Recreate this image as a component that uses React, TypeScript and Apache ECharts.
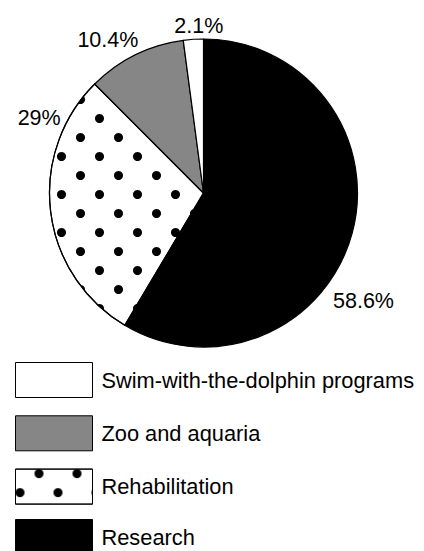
import React, { useEffect, useRef } from "react";
import * as echarts from "echarts";

const categories = ["Research", "Rehabilitation", "Zoo and aquaria", "Swim-with-the-dolphin programs"];
const values = [58.6, 29, 10.4, 2.1];
const valueLabels = ["58.6%", "29%", "10.4%", "2.1%"];
const legendOrderTop = ["Swim-with-the-dolphin programs", "Zoo and aquaria", "Rehabilitation"];
const legendOrderBottom = ["Research"];

const LABEL_NUDGE: [number, number][] = [
  [-24, 67],
  [15, -94],
  [8, -15],
  [35, -13],
];

const FONT = "'Liberation Sans', Arial, Helvetica, sans-serif";

export default function App() {
  const ref = useRef<HTMLDivElement>(null);
  useEffect(() => {
    if (!ref.current) return;
    const chart = echarts.init(ref.current, undefined, { renderer: "svg" });
    const dotDecal = {
      symbol: "circle",
      symbolSize: 1,
      color: "#000",
      dashArrayX: [[9, 29], [0, 19, 9, 10]],
      dashArrayY: [9, 10],
      rotation: 0,
    };
    const styles = [
      { color: "#000" },
      { color: "#fff", decal: dotDecal },
      { color: "#868686" },
      { color: "#fff" },
    ];
    const legendBase = {
      orient: "vertical",
      left: 10,
      itemWidth: 77,
      itemHeight: 35,
      itemGap: 17.3,
      icon: "rect",
      selectedMode: false,
      textStyle: { fontFamily: FONT, fontSize: 21.8, color: "#000", padding: [0, 0, 0, 4] },
      itemStyle: { borderColor: "#000", borderWidth: 1 },
    };
    chart.setOption({
      animation: false,
      backgroundColor: "#fff",
      legend: [
        { ...legendBase, top: 357, data: legendOrderTop },
        { ...legendBase, top: 514, data: legendOrderBottom },
      ],
      series: [
        {
          type: "pie",
          center: [203.5, 193],
          radius: 154,
          startAngle: 90,
          clockwise: true,
          avoidLabelOverlap: false,
          itemStyle: { borderColor: "#000", borderWidth: 1.2 },
          label: {
            show: true,
            position: "outside",
            fontFamily: FONT,
            fontSize: 21.5,
            color: "#000",
            formatter: (p: any) => valueLabels[p.dataIndex],
          },
          labelLine: { show: false, length: 0, length2: 0 },
          labelLayout: (p: any) => ({ dx: LABEL_NUDGE[p.dataIndex][0], dy: LABEL_NUDGE[p.dataIndex][1] }),
          emphasis: { disabled: true },
          data: categories.map((name, i) => ({ name, value: values[i], itemStyle: styles[i] })),
        },
      ],
    });
    return () => chart.dispose();
  }, []);
  return <div ref={ref} style={{ position: "fixed", left: 0, top: 0, width: 424, height: 551 }} />;
}
